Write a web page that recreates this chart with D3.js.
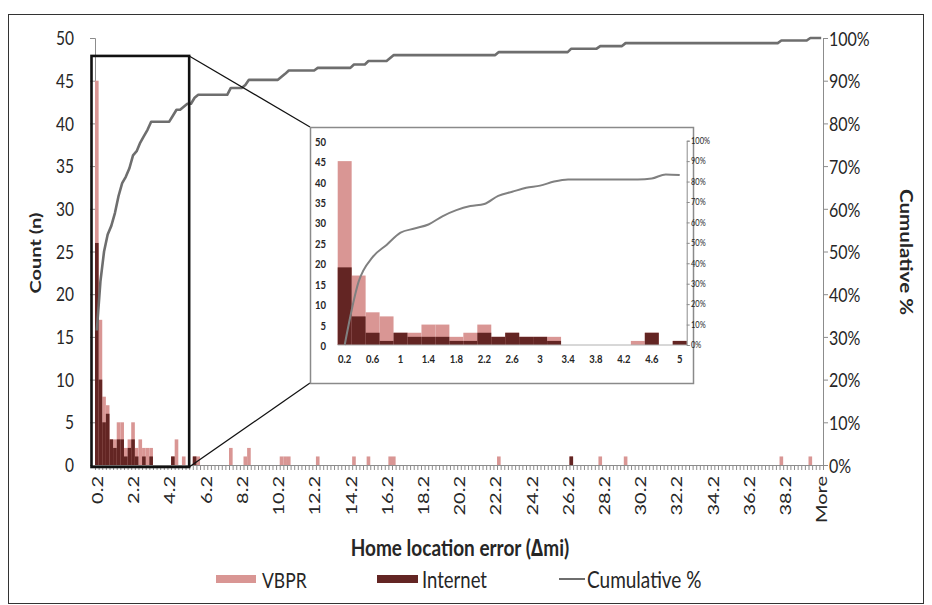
<!DOCTYPE html>
<html>
<head>
<meta charset="utf-8">
<script src="https://cdn.jsdelivr.net/npm/d3@7"></script>
<style>
  body { margin: 0; background: #fff; }
  svg { display: block; font-family: Lato, "Open Sans", sans-serif; }
</style>
</head>
<body>
<svg id="chart" width="932" height="605"></svg>
<script>
// histogram bins: 0.2 mi wide up to 40, then "More"
const bins = d3.range(1, 201).map(i => +(i * 0.2).toFixed(1)).concat(["More"]);
const binLabels = bins.filter((b, i) => i % 10 === 0);

// [bin, count] - bins not listed are empty
const vbprCounts = [
  [0.2, 45], [0.4, 17], [0.6, 8], [0.8, 7], [1, 3], [1.2, 3], [1.4, 5], [1.6, 5], [1.8, 2], [2, 3],
  [2.2, 5], [2.4, 2], [2.6, 3], [2.8, 2], [3, 2], [3.2, 2], [4.4, 1], [4.6, 3], [5, 1], [5.6, 1],
  [5.8, 1], [7.6, 2], [8.4, 1], [8.6, 2], [10.4, 1], [10.6, 1], [10.8, 1], [12.4, 1], [14.4, 1], [15.2, 1],
  [16.4, 1], [16.6, 1], [22.4, 1], [26.4, 1], [28, 1], [29.4, 1], [38, 1], [39.6, 1]
];
const internetCounts = [
  [0.2, 26], [0.4, 10], [0.6, 5], [0.8, 6], [1, 3], [1.2, 2], [1.4, 3], [1.6, 3], [1.8, 1], [2, 2],
  [2.2, 3], [2.4, 1], [2.8, 1], [3.2, 1], [4.4, 1], [5.6, 1], [26.4, 1]
];
// cumulative % - the points where the line turns
const cumulativePct = [
  [0.2, 31.5], [0.4, 43], [0.6, 50], [0.8, 54], [1, 56], [1.2, 59], [1.4, 63], [1.6, 66], [1.8, 67.5],
  [2, 69.5], [2.2, 72.5], [2.4, 73.5], [2.6, 75.5], [2.8, 77], [3, 78.5], [3.2, 80.4], [4.2, 80.4],
  [4.4, 81.8], [4.6, 83.2], [4.8, 83.2], [5, 83.9], [5.2, 84.6], [5.4, 84.6], [5.6, 86], [5.8, 86.7],
  [7.4, 86.7], [7.6, 88.3], [8.2, 88.3], [8.4, 89], [8.6, 90.2], [10.2, 90.2], [10.4, 90.9], [10.6, 91.6],
  [10.8, 92.4], [12.2, 92.4], [12.4, 93], [14.2, 93], [14.4, 93.8], [15, 93.8], [15.2, 94.6], [16.2, 94.6],
  [16.4, 95.3], [16.6, 96], [22.2, 96], [22.4, 96.7], [26.2, 96.7], [26.4, 97.5], [27.8, 97.5], [28, 98.1],
  [29.2, 98.1], [29.4, 98.8], [37.8, 98.8], [38, 99.4], [39.4, 99.4], [39.6, 100], ["More", 100]
];

// zoomed inset: first 25 bins
const insetBins = bins.slice(0, 25);
const insetLabels = insetBins.filter((b, i) => i % 2 === 0);
const insetVbpr = [45, 17, 8, 7, 3, 3, 5, 5, 2, 3, 5, 2, 3, 2, 2, 2, 0, 0, 0, 0, 0, 1, 3, 0, 1];
const insetInternet = [19, 7, 3, 1, 3, 2, 2, 2, 1, 1, 3, 2, 3, 2, 2, 1, 0, 0, 0, 0, 0, 0, 3, 0, 1];
const insetCumulative = [0, 31, 43, 49, 55, 57, 59, 63, 66, 68, 69, 73, 75, 77, 78, 80, 81, 81, 81, 81, 81, 81, 81.5, 83.5, 83.2];

const countTicks = [0, 5, 10, 15, 20, 25, 30, 35, 40, 45, 50];
const pctTicks = [0, 10, 20, 30, 40, 50, 60, 70, 80, 90, 100];

const PINK = "#d99694", DARK = "#632523", LINE = "#6e6e6e", AXIS = "#8c8c8c";
const SY = 1.25; // text in the picture is a bit taller than wide

const svg = d3.select("#chart");

function label(g, x, y, str, o = {}) {
    return g.append("text")
        .attr("transform", `translate(${x},${y}) scale(1,${SY})` + (o.rotate ? ` rotate(${o.rotate})` : ""))
        .attr("text-anchor", o.anchor || "middle")
        .attr("dominant-baseline", "central")
        .attr("font-size", o.size || 15)
        .attr("font-weight", o.bold ? "bold" : null)
        .attr("fill", o.color || "#262626")
        .text(str);
}

function styleAxis(sel) {
    sel.select(".domain").attr("stroke", AXIS);
    sel.selectAll(".tick line").attr("stroke", AXIS);
}

// outer frame
svg.append("rect")
    .attr("x", 8.5).attr("y", 14.5).attr("width", 915).attr("height", 589)
    .attr("fill", "none").attr("stroke", "#333");

// ---------- main chart ----------
const x = d3.scaleBand().domain(bins).range([95, 823]).padding(0);
const y = d3.scaleLinear().domain([0, 50]).range([465, 38]);
const y2 = d3.scaleLinear().domain([0, 100]).range([465, 38]);
const bw = x.bandwidth();
const main = svg.append("g");

// axes (lines and ticks only; labels drawn below)
const slots = d3.scaleLinear().domain([0, bins.length]).range(x.range());
main.append("g").attr("transform", `translate(0,${y(0)})`)
    .call(d3.axisBottom(slots).tickValues(d3.range(0, bins.length + 1)).tickSize(5).tickFormat(""))
    .call(styleAxis);
main.append("g").attr("transform", `translate(${x.range()[0]},0)`)
    .call(d3.axisLeft(y).tickValues(countTicks).tickSize(5).tickFormat(""))
    .call(styleAxis);
main.append("g").attr("transform", `translate(${x.range()[1]},0)`)
    .call(d3.axisRight(y2).tickValues(pctTicks).tickSize(5).tickFormat(""))
    .call(styleAxis);

countTicks.forEach(v => label(main, 74, y(v), v, { anchor: "end", size: 15.5 }));
pctTicks.forEach(v => label(main, 829, y2(v), v + "%", { anchor: "start", size: 16 }));
binLabels.forEach(b => label(main, x(b) + bw / 2, 476, b, { anchor: "end", size: 16, rotate: -90 }));

main.append("g").selectAll("rect")
    .data(vbprCounts)
    .join("rect")
    .attr("x", d => x(d[0])).attr("width", bw)
    .attr("y", d => y(d[1])).attr("height", d => y(0) - y(d[1]))
    .attr("fill", PINK);

main.append("g").selectAll("rect")
    .data(internetCounts)
    .join("rect")
    .attr("x", d => x(d[0])).attr("width", bw)
    .attr("y", d => y(d[1])).attr("height", d => y(0) - y(d[1]))
    .attr("fill", DARK);

main.append("path")
    .datum(cumulativePct)
    .attr("fill", "none").attr("stroke", LINE).attr("stroke-width", 2.6)
    .attr("stroke-linejoin", "round")
    .attr("d", d3.line().x(d => x(d[0]) + bw / 2).y(d => y2(d[1])));

label(main, 460, 547, "Home location error (\u2206mi)", { bold: true, size: 19 });
label(main, 35, 253, "Count (n)", { bold: true, size: 16, rotate: -90 });
label(main, 906, 252, "Cumulative %", { bold: true, size: 16.5, rotate: 90 });

// ---------- inset ----------
const box = { x: 310, y: 127, w: 383, h: 256 };
const zoomRect = {
    x0: x.range()[0] - 3.5,
    x1: x(5.2) + bw,
    y0: y(47.9),
    y1: y(0) + 2
};

// connectors + zoom window
svg.append("line").attr("x1", zoomRect.x1).attr("y1", zoomRect.y0).attr("x2", box.x).attr("y2", box.y)
    .attr("stroke", "#111").attr("stroke-width", 1.2);
svg.append("line").attr("x1", zoomRect.x1).attr("y1", zoomRect.y1).attr("x2", box.x).attr("y2", box.y + box.h)
    .attr("stroke", "#111").attr("stroke-width", 1.2);
svg.append("rect")
    .attr("x", zoomRect.x0).attr("y", zoomRect.y0)
    .attr("width", zoomRect.x1 - zoomRect.x0).attr("height", zoomRect.y1 - zoomRect.y0)
    .attr("fill", "none").attr("stroke", "#111").attr("stroke-width", 2.6);

const inset = svg.append("g");
inset.append("rect")
    .attr("x", box.x + 0.5).attr("y", box.y + 0.5).attr("width", box.w).attr("height", box.h)
    .attr("fill", "#fff").attr("stroke", "#8a8a8a").attr("stroke-width", 1.5);

const ix = d3.scaleBand().domain(insetBins).range([337.7, 686.7]).padding(0);
const iy = d3.scaleLinear().domain([0, 50]).range([345, 140.7]);
const iy2 = d3.scaleLinear().domain([0, 100]).range([345, 140.7]);
const ibw = ix.bandwidth();

inset.append("g").selectAll("rect")
    .data(insetBins)
    .join("rect")
    .attr("x", d => ix(d)).attr("width", ibw)
    .attr("y", (d, i) => iy(insetVbpr[i])).attr("height", (d, i) => iy(0) - iy(insetVbpr[i]))
    .attr("fill", PINK);
inset.append("g").selectAll("rect")
    .data(insetBins)
    .join("rect")
    .attr("x", d => ix(d)).attr("width", ibw)
    .attr("y", (d, i) => iy(insetInternet[i])).attr("height", (d, i) => iy(0) - iy(insetInternet[i]))
    .attr("fill", DARK);

inset.append("line").attr("x1", ix.range()[0]).attr("x2", ix.range()[1])
    .attr("y1", iy(0)).attr("y2", iy(0)).attr("stroke", "#b0b0b0");
inset.append("g").attr("transform", `translate(${ix.range()[1]},0)`)
    .call(d3.axisRight(iy2).tickValues(pctTicks).tickSize(3).tickFormat(""))
    .call(styleAxis);

inset.append("path")
    .datum(insetCumulative)
    .attr("fill", "none").attr("stroke", "#808080").attr("stroke-width", 2)
    .attr("d", d3.line().curve(d3.curveMonotoneX)
        .x((d, i) => ix(insetBins[i]) + ibw / 2).y(d => iy2(d)));

countTicks.forEach(v => label(inset, 326, iy(v), v, { anchor: "end", size: 9.5, bold: true }));
pctTicks.forEach(v => label(inset, 691, iy2(v), v + "%", { anchor: "start", size: 7.5 }));
insetLabels.forEach(b => label(inset, ix(b) + ibw / 2, 358, b, { size: 9.5, bold: true }));

// ---------- legend ----------
const legend = svg.append("g");
legend.append("rect").attr("x", 216).attr("y", 575).attr("width", 40).attr("height", 8).attr("fill", PINK);
label(legend, 262, 579, "VBPR", { anchor: "start", size: 17.5 });
legend.append("rect").attr("x", 377).attr("y", 575).attr("width", 41).attr("height", 8).attr("fill", DARK);
label(legend, 422, 579, "Internet", { anchor: "start", size: 18.5 });
legend.append("line").attr("x1", 559).attr("x2", 585).attr("y1", 579).attr("y2", 579)
    .attr("stroke", LINE).attr("stroke-width", 2);
label(legend, 587, 579, "Cumulative %", { anchor: "start", size: 19 });
</script>
</body>
</html>
